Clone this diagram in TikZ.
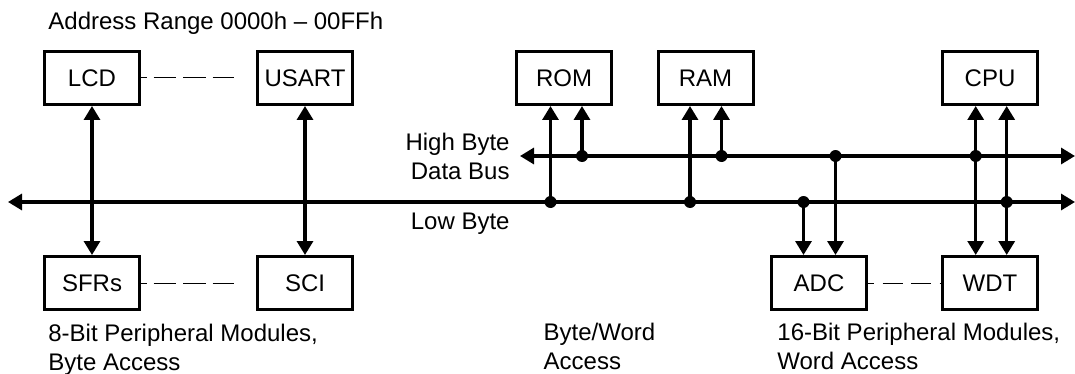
\documentclass[tikz,border=0pt]{standalone}
\usepackage{fontspec}
\setmainfont{Liberation Sans}
\usetikzlibrary{arrows.meta}

\tikzset{
	modul/.style={draw, line width=1.5pt, minimum width=47.5pt, minimum height=26.5pt,
	inner sep=0pt, font=\fontsize{12pt}{14.4pt}\selectfont},
	bus/.style={line width=1.6pt},
	bustip/.tip={Triangle[length=7pt, width=8pt]},
	knoten/.style={circle, fill, inner sep=0pt, minimum size=6pt},
	beschr/.style={inner sep=0pt, font=\fontsize{12pt}{14.4pt}\selectfont},
	strichA/.style={line width=0.5pt, dash pattern=on 11.25pt off 3.5pt, dash phase=8.5pt},
	strichB/.style={line width=0.5pt, dash pattern=on 10pt off 4.25pt, dash phase=7pt}
}

\begin{document}
\begin{tikzpicture}[x=0.5pt, y=-0.5pt]
	\useasboundingbox (0,0) rectangle (1075,374);
	% Module oben
	\node[modul] (lcd) at (92, 78) {LCD};
	\node[modul] (usart) at (305, 78) {USART};
	\node[modul] (rom) at (564, 78) {ROM};
	\node[modul] (ram) at (705.5, 78) {RAM};
	\node[modul] (cpu) at (990, 78) {CPU};
	% Module unten
	\node[modul] (sfr) at (92, 283) {SFRs};
	\node[modul] (sci) at (305, 283) {SCI};
	\node[modul] (adc) at (819, 283) {ADC};
	\node[modul] (wdt) at (990, 283) {WDT};
	% Busse
	\coordinate (lo-w) at (8, 202);
	\coordinate (lo-e) at (1075, 202);
	\coordinate (hi-w) at (520, 156);
	\coordinate (hi-e) at (1075, 156);
	\draw[bus, bustip-bustip] (lo-w) -- (lo-e);
	\draw[bus, bustip-bustip] (hi-w) -- (hi-e);
	% Knoten auf den Bussen
	\foreach \name/\x/\y in {romL/550.5/202, romH/582/156, ramL/690/202, ramH/721.5/156,
		adcL/803.5/202, adcH/835.5/156, cpuH/975.7/156, cpuL/1006.7/202}
		\node[knoten] (\name) at (\x, \y) {};
	% Verbindungen
	\draw[bus, bustip-bustip] (lcd) -- (sfr);
	\draw[bus, bustip-bustip] (usart) -- (sci);
	\foreach \k/\m in {romL/rom, romH/rom, ramL/ram, ramH/ram}
		\draw[bus, -bustip] (\k.center) -- (\k |- \m.south);
	\foreach \k/\m in {adcL/adc, adcH/adc}
		\draw[bus, -bustip] (\k.center) -- (\k |- \m.north);
	\foreach \k in {cpuH, cpuL}
		\draw[bus, bustip-bustip] (\k |- cpu.south) -- (\k |- wdt.north);
	% gestrichelte Linien
	\draw[strichA] (lcd.east) -- ([xshift=-11pt]usart.west);
	\draw[strichA] (sfr.east) -- ([xshift=-11pt]sci.west);
	\draw[strichB] (adc.east) -- (wdt.west);
	% Beschriftungen
	\node[beschr, anchor=base west] (adr) at (48, 29.3) {Address Range 0000h – 00FFh};
	\node[beschr, anchor=base east, align=right] (hbyte) at (510, 179.5) {High Byte\\Data Bus};
	\node[beschr, anchor=base east] (lbyte) at (510, 229) {Low Byte};
	\node[beschr, anchor=base west, align=left] (bit8) at (48, 370) {8-Bit Peripheral Modules,\\Byte Access};
	\node[beschr, anchor=base west, align=left] (bw) at (543.3, 369.5) {Byte/Word\\Access};
	\node[beschr, anchor=base west, align=left] (bit16) at (777, 369.5) {16-Bit Peripheral Modules,\\Word Access};
\end{tikzpicture}
\end{document}
